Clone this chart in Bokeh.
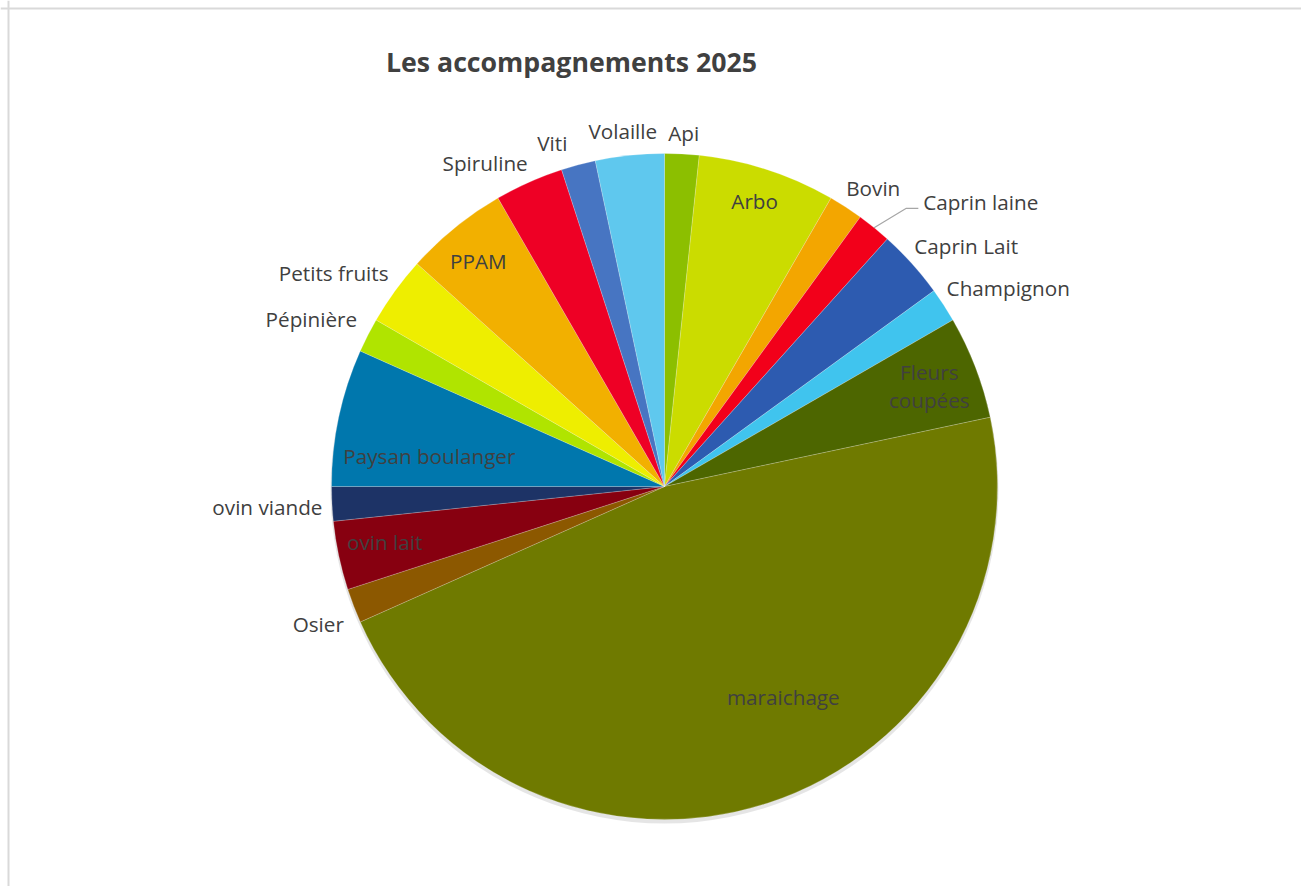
import math
from bokeh.plotting import figure
from bokeh.models import Range1d, Span, ColumnDataSource
from bokeh.core.properties import value
from bokeh.embed import file_html
from bokeh.resources import INLINE

# ---------------- data ----------------
categories = ["Api", "Arbo", "Bovin", "Caprin laine", "Caprin Lait", "Champignon",
              "Fleurs coupées", "maraichage", "Osier", "ovin lait", "ovin viande",
              "Paysan boulanger", "Pépinière", "Petits fruits", "PPAM", "Spiruline",
              "Viti", "Volaille"]
counts = [1, 4, 1, 1, 2, 1, 3, 28, 1, 2, 1, 4, 1, 2, 3, 2, 1, 2]
colors = ["#8cbf00", "#cbdc00", "#f3a600", "#f2001a", "#2d5bb0", "#40c4ee",
          "#4d6600", "#6f7a00", "#8c5800", "#870010", "#1d3366",
          "#0077ad", "#b0e400", "#eeee00", "#f2b000", "#ee0025",
          "#4775c2", "#5fc8ee"]
title_text = "Les accompagnements 2025"

# label layout: (radius factor, angle shift in degrees from slice middle)
label_layout = [(1.062, 0.1), (0.90, -0.5), (1.093, 2.0), (1.278, 9.0), (1.159, 3.4),
                (1.192, 3.0), (0.85, 0.3), (0.727, -11.4), (1.119, -0.7), (0.857, 0.7),
                (1.194, 0.1), (0.712, -4.7), (1.174, -1.6), (1.182, -3.2), (0.879, -0.5),
                (1.111, -5.0), (1.084, -3.1), (1.074, -0.7)]

# ---------------- geometry ----------------
W, H = 1301, 886
cx, cy, R = 664, 400, 333
FONT = "Open Sans"
TXT = "#404040"

p = figure(width=W, height=H, output_backend="svg", toolbar_location=None,
           x_range=Range1d(0, W), y_range=Range1d(0, H), min_border=0)
p.axis.visible = False
p.grid.visible = False
p.outline_line_color = None
p.background_fill_color = "white"
p.border_fill_color = "white"

# chart-area border (top and left visible in the reference)
p.add_layout(Span(location=H - 8, dimension="width", line_color="#d9d9d9", line_width=2))
p.add_layout(Span(location=8, dimension="height", line_color="#d9d9d9", line_width=2))

total = sum(counts)
starts, ends, mids = [], [], []
acc = 0
for c in counts:
    a0 = acc / total * 2 * math.pi
    acc += c
    a1 = acc / total * 2 * math.pi
    starts.append(math.pi / 2 - a0)
    ends.append(math.pi / 2 - a1)
    mids.append((a0 + a1) / 2)

# soft shadow
p.circle(x=[cx], y=[cy - 3], radius=R + 1, fill_color="#000000", fill_alpha=0.10,
         line_color=None)

src = ColumnDataSource(dict(x=[cx] * len(counts), y=[cy] * len(counts), start=starts,
                            end=ends, color=colors, name=categories))
p.wedge(x="x", y="y", radius=R, start_angle="start", end_angle="end", direction="clock",
        fill_color="color", line_color="white", line_alpha=0.35, line_width=0.6,
        source=src)

# labels
lx, ly, lt = [], [], []
for name, mid, (rf, dth) in zip(categories, mids, label_layout):
    ang = mid + math.radians(dth)
    r = rf * R
    x = cx + r * math.sin(ang)
    y = cy + r * math.cos(ang)
    if name == "Fleurs coupées":
        lx += [x, x]
        ly += [y + 14, y - 14]
        lt += ["Fleurs", "coupées"]
    else:
        lx.append(x)
        ly.append(y)
        lt.append(name)
p.text(x=lx, y=ly, text=lt, text_align="center", text_baseline="middle",
       text_font=value(FONT), text_font_size="20.7px", text_color=TXT)

# leader line for Caprin laine
i = categories.index("Caprin laine")
m = mids[i]
e_ang = m + math.radians(2.0)
x0, y0 = cx + R * math.sin(m), cy + R * math.cos(m)
x1, y1 = cx + 1.107 * R * math.sin(e_ang), cy + 1.107 * R * math.cos(e_ang)
p.line(x=[x0, x1, x1 + 12], y=[y0, y1, y1], line_color="#a6a6a6", line_width=1.2)

# title
p.text(x=[571], y=[825], text=[title_text], text_align="center", text_baseline="middle",
       text_font=value(FONT), text_font_size="26.7px", text_font_style="bold",
       text_color=TXT)

open("out.html", "w").write(file_html(p, INLINE))
